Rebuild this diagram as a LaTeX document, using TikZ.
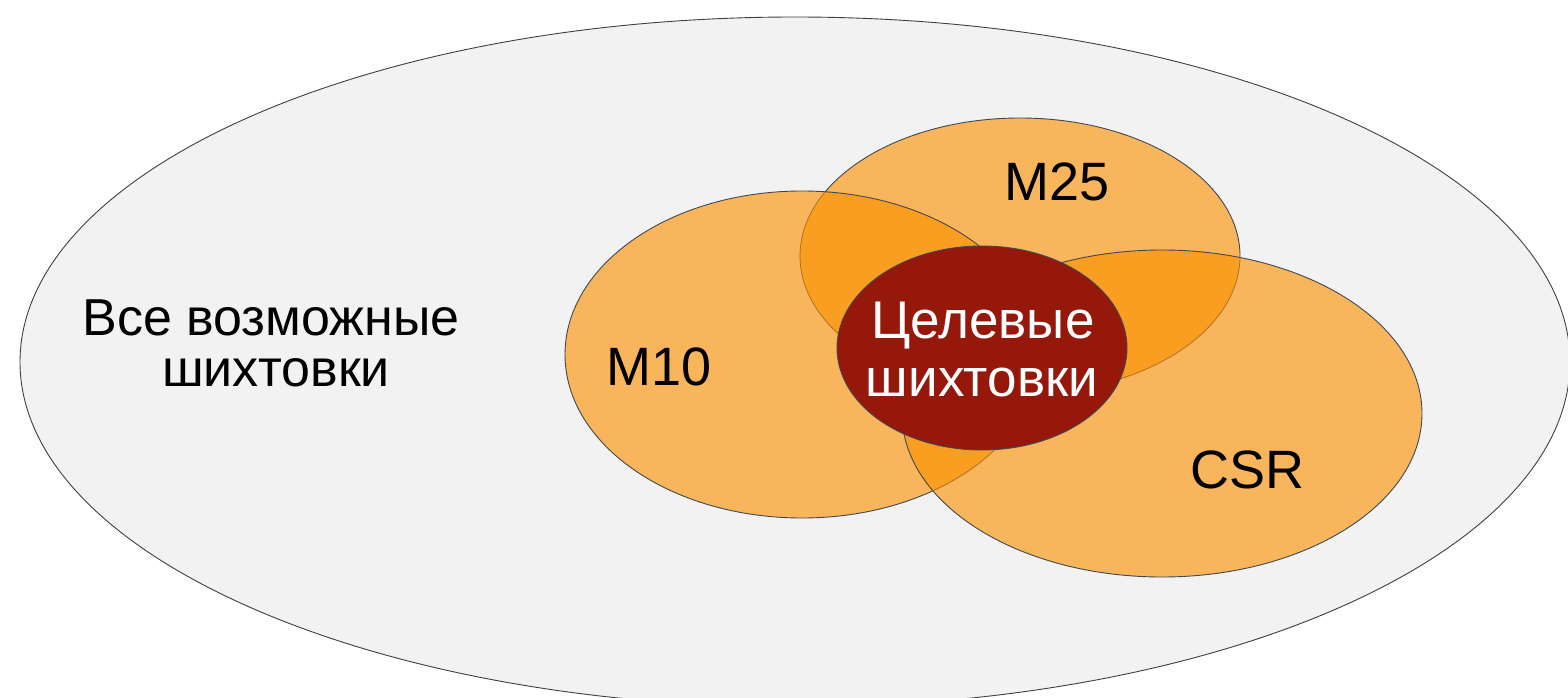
\documentclass[tikz,border=0pt]{standalone}
\usepackage{fontspec}
\setmainfont{Liberation Sans}
\definecolor{bgfill}{RGB}{242,242,242}
\definecolor{setorange}{RGB}{252,145,0}
\definecolor{targetred}{RGB}{150,24,10}
\definecolor{rimgray}{RGB}{64,72,82}
\begin{document}
\begin{tikzpicture}[x=1pt,y=-1pt,
  setfill/.style={fill=setorange,fill opacity=0.62,draw=rimgray,line width=0.9pt},
  lbl/.style={anchor=base,inner sep=0pt,font=\fontsize{54}{62}\selectfont},
  wlbl/.style={anchor=base,inner sep=0pt,text=white,font=\fontsize{53}{61}\selectfont}]
\useasboundingbox (0,0) rectangle (1568,698);
\clip (0,0) rectangle (1568,698);
\fill[white] (0,0) rectangle (1568,698);
% universe of all blends
\draw[fill=bgfill,draw=black!75,line width=0.9pt] (795,362) ellipse [x radius=775,y radius=345];
% the three grade sets
\draw[setfill] (1020,256) ellipse [x radius=220,y radius=138];
\draw[setfill] (802,354.5) ellipse [x radius=237,y radius=163.5];
\draw[setfill] (1162,413.5) ellipse [x radius=260,y radius=163.5];
% target blends
\draw[fill=targetred,draw=rimgray,line width=0.9pt] (982,348) ellipse [x radius=145,y radius=102];
% labels
\node[lbl,font=\fontsize{52}{60}\selectfont] (all1) at (271,335) {Все возможные};
\node[lbl,font=\fontsize{52}{60}\selectfont] (all2) at (276,386) {шихтовки};
\node[lbl] (m10) at (659,385) {M10};
\node[lbl] (m25) at (1057,200) {M25};
\node[lbl] (csr) at (1247.5,488) {CSR};
\node[wlbl] (tgt1) at (983,338) {Целевые};
\node[wlbl] (tgt2) at (982,396) {шихтовки};
\end{tikzpicture}
\end{document}
